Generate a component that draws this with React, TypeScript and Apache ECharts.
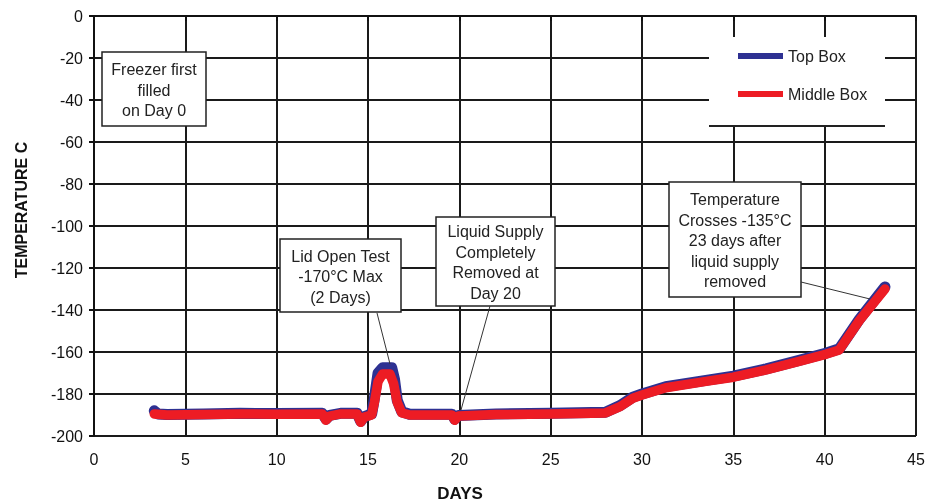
import React, { useEffect, useRef } from "react";
import * as echarts from "echarts";

const dayTicks = [0, 5, 10, 15, 20, 25, 30, 35, 40, 45];
const tempTicks = [0, -20, -40, -60, -80, -100, -120, -140, -160, -180, -200];

const topBoxData: [number, number][] = [
  [3.3, -188], [3.5, -189.5], [4, -189.8], [6, -189.5], [8, -189.2], [10, -189.3],
  [12.5, -189.2], [12.7, -192], [12.9, -190.2], [13.5, -189.2], [14.4, -189.2],
  [14.6, -193], [14.8, -190.8], [15.2, -189.5], [15.35, -182], [15.55, -170],
  [15.8, -167.5], [16.3, -167.5], [16.45, -173], [16.6, -183], [16.85, -188.5],
  [17.3, -189.7], [19.6, -189.7], [19.75, -192], [19.95, -190.2], [22, -189.5],
  [25, -189.2], [28, -188.7], [28.8, -185.5], [29.5, -181.5], [30, -180],
  [31.3, -176.5], [33.5, -173.5], [35, -171.5], [36.8, -168], [38.6, -164],
  [40.1, -160.5], [40.8, -158.5], [41.9, -144.5], [43.3, -129],
];

const middleBoxData: [number, number][] = [
  [3.3, -189.5], [4, -190], [6, -189.8], [8, -189.5], [10, -189.6], [12.5, -189.5],
  [12.7, -192.5], [12.9, -190.5], [13.5, -189.5], [14.4, -189.5], [14.6, -193.5],
  [14.8, -191], [15.2, -190], [15.35, -184], [15.55, -174], [15.8, -170.5],
  [16.2, -170.5], [16.4, -175], [16.6, -184], [16.85, -189], [17.3, -190],
  [19.6, -190], [19.75, -192.5], [19.95, -190.5], [22, -189.8], [25, -189.5],
  [28, -189], [28.8, -186], [29.5, -182], [30, -180.5], [31.3, -177],
  [33.5, -174], [35, -172], [36.8, -168.5], [38.6, -164.5], [40.1, -161],
  [40.8, -159], [41.9, -145], [43.3, -130],
];

const seriesNames = ["Top Box", "Middle Box"];
const seriesColors = ["#2E3192", "#ED1C24"];

const annotations = [
  { text: "Freezer first\nfilled\non Day 0", box: [102, 52, 104, 74] },
  { text: "Lid Open Test\n-170°C Max\n(2 Days)", box: [280, 239, 121, 73] },
  { text: "Liquid Supply\nCompletely\nRemoved at\nDay 20", box: [436, 217, 119, 89] },
  { text: "Temperature\nCrosses -135°C\n23 days after\nliquid supply\nremoved", box: [669, 182, 132, 115] },
];

const connectors = [
  [377, 313, 390, 364],
  [490, 306, 461, 410],
  [801, 282, 870, 299],
];

const FONT = "Liberation Sans, Arial, sans-serif";

export default function App() {
  const ref = useRef<HTMLDivElement>(null);

  useEffect(() => {
    if (!ref.current) return;
    const chart = echarts.init(ref.current, undefined, { renderer: "svg" });

    const graphics: any[] = [];
    graphics.push({
      type: "rect",
      z: 10,
      shape: { x: 709, y: 37, width: 176, height: 89 },
      style: { fill: "#fff" },
    });
    graphics.push({
      type: "line",
      z: 10,
      shape: { x1: 709, y1: 126, x2: 885, y2: 126 },
      style: { stroke: "#222", lineWidth: 2 },
    });
    annotations.forEach((a) => {
      const [x, y, w, h] = a.box;
      graphics.push({
        type: "rect",
        z: 10,
        shape: { x, y, width: w, height: h },
        style: { fill: "#fff", stroke: "#222", lineWidth: 1.5 },
      });
      graphics.push({
        type: "text",
        z: 11,
        x: x + w / 2,
        y: y + h / 2 + 1,
        style: {
          text: a.text,
          align: "center",
          verticalAlign: "middle",
          fontFamily: FONT,
          fontSize: 16,
          lineHeight: 20.5,
          fill: "#222",
        },
      });
    });
    connectors.forEach((c) => {
      graphics.push({
        type: "line",
        z: 10,
        shape: { x1: c[0], y1: c[1], x2: c[2], y2: c[3] },
        style: { stroke: "#333", lineWidth: 1 },
      });
    });
    graphics.push({
      type: "text",
      x: 21,
      y: 210,
      rotation: Math.PI / 2,
      style: {
        text: "TEMPERATURE C",
        align: "center",
        verticalAlign: "middle",
        fontFamily: FONT,
        fontSize: 16,
        fontWeight: "bold",
        fill: "#111",
      },
    });
    graphics.push({
      type: "text",
      x: 460,
      y: 493,
      style: {
        text: "DAYS",
        align: "center",
        verticalAlign: "middle",
        fontFamily: FONT,
        fontSize: 17,
        fontWeight: "bold",
        fill: "#111",
      },
    });

    const splitColors = tempTicks
      .slice()
      .reverse()
      .map((v) => (v === 0 ? "#aaa" : "#1a1a1a"));

    chart.setOption({
      animation: false,
      grid: { left: 94, right: 23, top: 16, bottom: 66, containLabel: false },
      legend: {
        data: seriesNames,
        orient: "vertical",
        left: 733,
        top: 43,
        z: 20,
        itemWidth: 45,
        itemHeight: 6,
        itemGap: 22,
        icon: "rect",
        textStyle: { fontFamily: FONT, fontSize: 16, color: "#222" },
      },
      xAxis: {
        type: "value",
        min: dayTicks[0],
        max: dayTicks[dayTicks.length - 1],
        interval: 5,
        axisLine: { show: true, lineStyle: { color: "#111", width: 2 } },
        axisTick: { show: true, length: 5, lineStyle: { color: "#111", width: 2 } },
        axisLabel: {
          margin: 15,
          fontFamily: FONT,
          fontSize: 16,
          color: "#111",
        },
        splitLine: { show: true, lineStyle: { color: "#1a1a1a", width: 2 } },
      },
      yAxis: {
        type: "value",
        min: tempTicks[tempTicks.length - 1],
        max: tempTicks[0],
        interval: 20,
        axisLine: { show: true, lineStyle: { color: "#111", width: 2 } },
        axisTick: { show: true, length: 5, lineStyle: { color: "#111", width: 2 } },
        axisLabel: {
          margin: 11,
          fontFamily: FONT,
          fontSize: 16,
          color: "#111",
        },
        splitLine: { show: true, lineStyle: { color: splitColors, width: 2 } },
      },
      series: [
        {
          name: seriesNames[0],
          type: "line",
          data: topBoxData,
          showSymbol: false,
          color: seriesColors[0],
          lineStyle: { width: 11, color: seriesColors[0], cap: "round", join: "round" },
          z: 2,
        },
        {
          name: seriesNames[1],
          type: "line",
          data: middleBoxData,
          showSymbol: false,
          color: seriesColors[1],
          lineStyle: { width: 9.5, color: seriesColors[1], cap: "round", join: "round" },
          z: 3,
        },
      ],
      graphic: graphics,
    });

    return () => chart.dispose();
  }, []);

  return (
    <div
      ref={ref}
      style={{ position: "fixed", left: 0, top: 0, width: 939, height: 502 }}
    />
  );
}
